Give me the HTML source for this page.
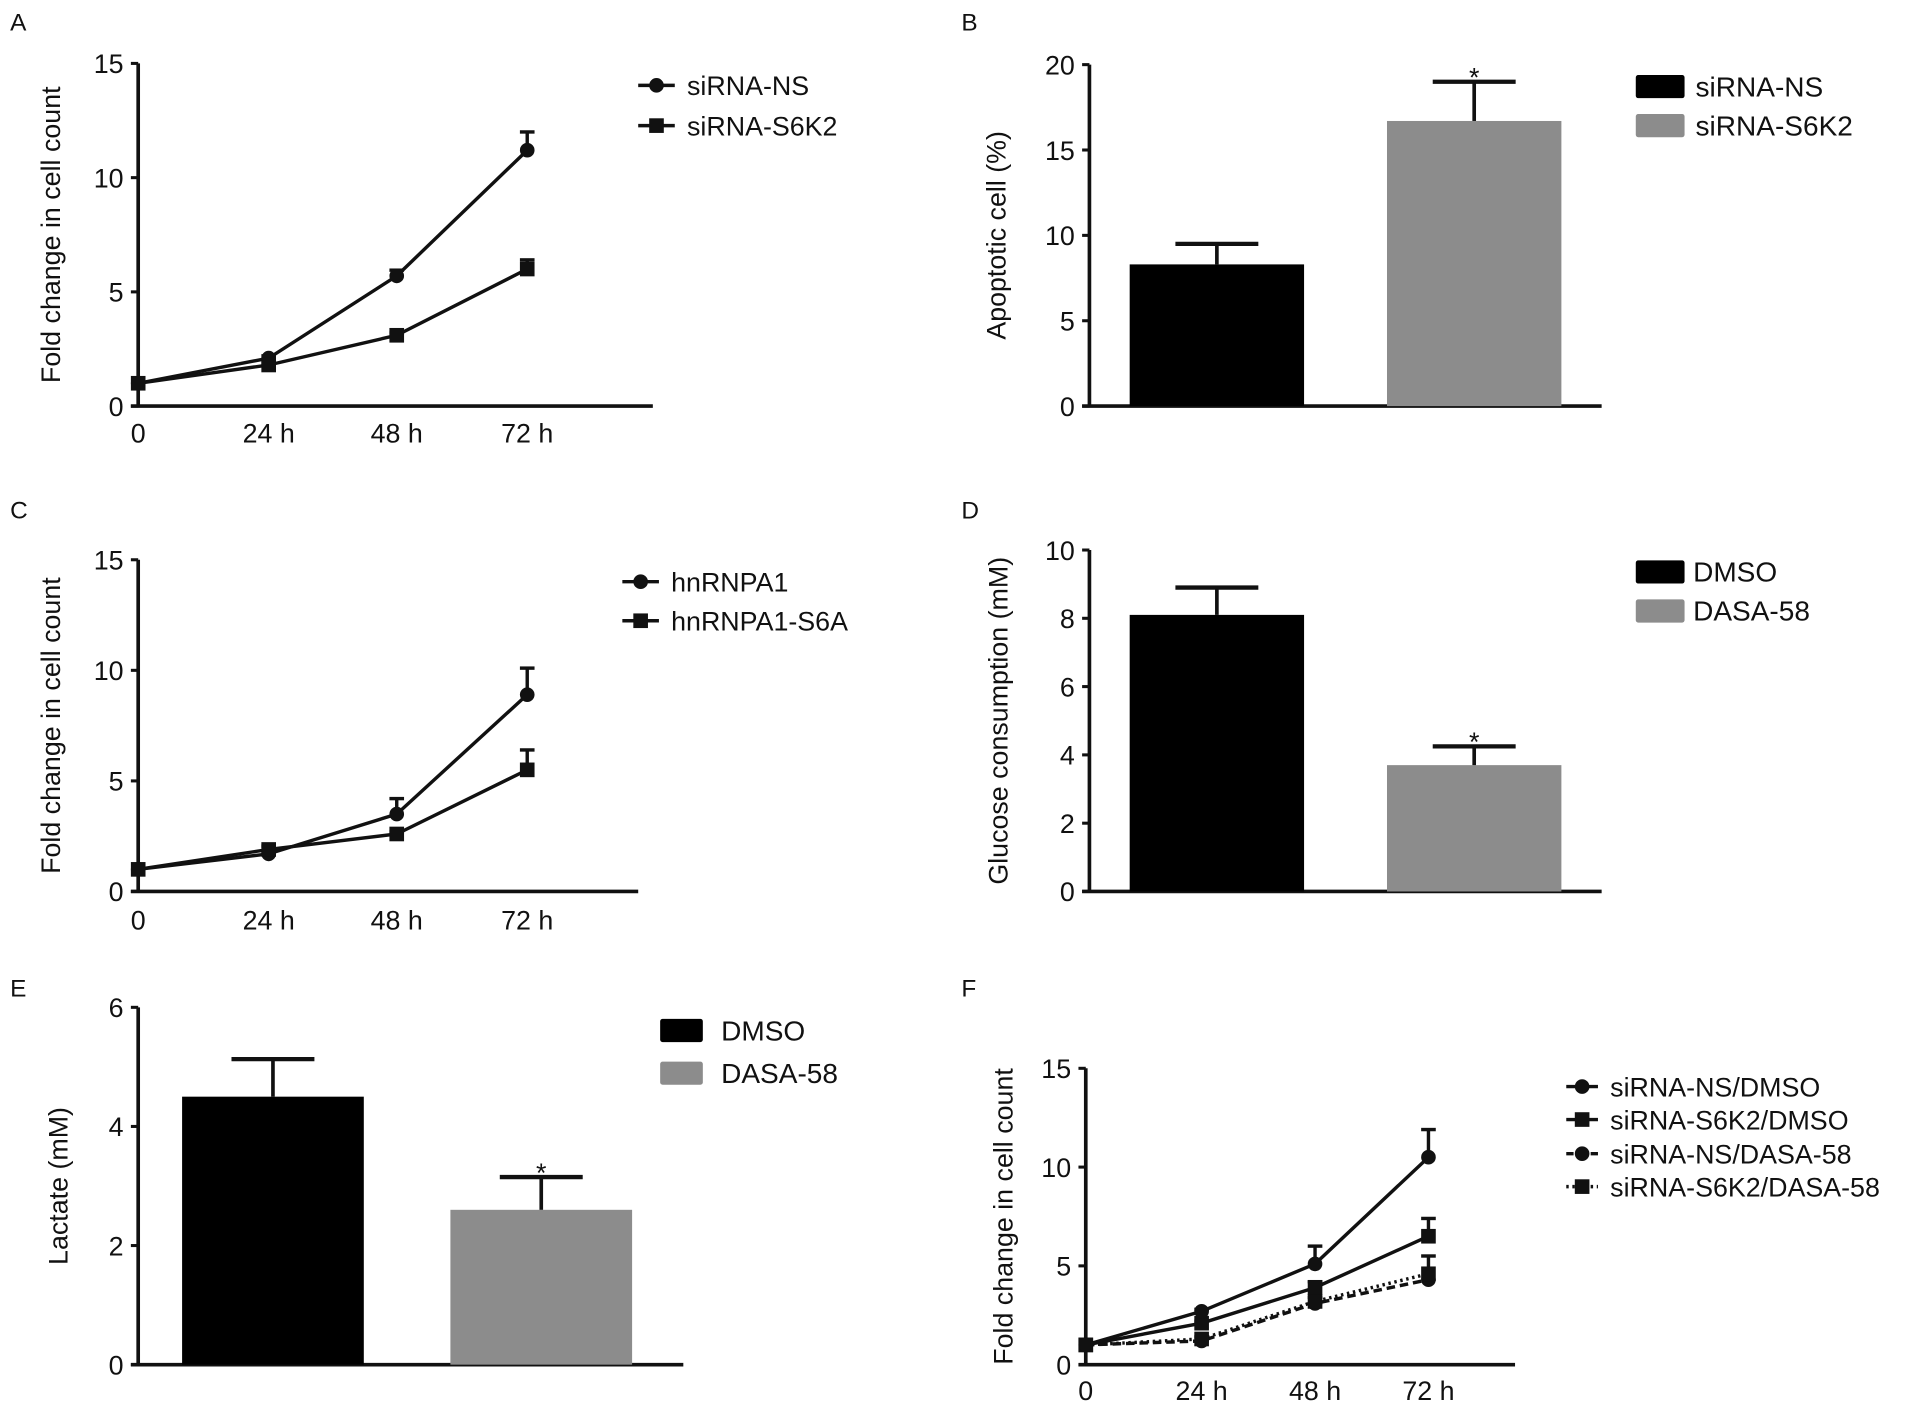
<!DOCTYPE html>
<html><head><meta charset="utf-8">
<style>
html,body{margin:0;padding:0;background:#fff;}
svg{display:block;}
text{font-family:"Liberation Sans Narrow","Liberation Sans",sans-serif;fill:#111;}
</style></head>
<body>
<svg id="fig" width="1913" height="1411" viewBox="0 0 1568 1157" xmlns="http://www.w3.org/2000/svg"></svg>
<script>
// ---- Panel A data ----
const timeLabels = ["0","24 h","48 h","72 h"];
const aNS = [1, 2.1, 5.7, 11.2];
const aNSerr = [0, 0.1, 0.25, 0.8];
const aS6K2 = [1, 1.8, 3.1, 6.0];
const aS6K2err = [0, 0.1, 0.1, 0.4];
// ---- Panel B data ----
const bCats = ["siRNA-NS","siRNA-S6K2"];
const bVals = [8.3, 16.7];
const bErr = [1.2, 2.3];
// ---- Panel C data ----
const cA1 = [1, 1.7, 3.5, 8.9];
const cA1err = [0, 0.1, 0.7, 1.2];
const cS6A = [1, 1.9, 2.6, 5.5];
const cS6Aerr = [0, 0.15, 0.1, 0.9];
// ---- Panel D data ----
const dCats = ["DMSO","DASA-58"];
const dVals = [8.1, 3.7];
const dErr = [0.8, 0.55];
// ---- Panel E data ----
const eVals = [4.5, 2.6];
const eErr = [0.63, 0.55];
// ---- Panel F data ----
const fNSD = [1, 2.7, 5.1, 10.5];
const fNSDerr = [0, 0.1, 0.9, 1.4];
const fS6D = [1, 2.1, 3.9, 6.5];
const fS6Derr = [0, 0.1, 0.3, 0.9];
const fNSA = [1, 1.2, 3.1, 4.3];
const fS6A = [1, 1.3, 3.2, 4.6];
const fS6Aerr = [0, 0.1, 0.2, 0.9];

const NS="http://www.w3.org/2000/svg";
const svg=document.getElementById('fig');
function el(tag,attrs,parent,txt){const e=document.createElementNS(NS,tag);for(const k in attrs)e.setAttribute(k,attrs[k]);if(txt!==undefined)e.textContent=txt;(parent||svg).appendChild(e);return e;}

function axes(g,o){
  const y=v=>o.yBot-(v/o.max)*(o.yBot-o.yTop);
  const ya=el('line',{x1:o.x0,y1:o.yTop,x2:o.x0,y2:o.yBot+1,stroke:'#111','stroke-width':3},g);
  
  const xa=el('line',{x1:o.x0-6,y1:o.yBot,x2:o.xEnd,y2:o.yBot,stroke:'#111','stroke-width':3},g);
  
  o.ticks.forEach(t=>{
    el('line',{x1:o.x0-6,y1:y(t),x2:o.x0,y2:y(t),stroke:'#111','stroke-width':2.5},g);
    const tl=el('text',{x:o.x0-12,y:y(t)+8,'text-anchor':'end','font-size':22},g,String(t));
    
  });
  const tt=el('text',{x:o.titleX,y:(o.yTop+o.yBot)/2,'text-anchor':'middle','font-size':22,transform:`rotate(-90 ${o.titleX} ${(o.yTop+o.yBot)/2})`},g,o.title);
  
  return y;
}
function panelLabel(t,x,y){const l=el('text',{x:x,y:y,'font-size':20},svg,t);}
function marker(g,shape,cx,cy){
  if(shape==='circle')return el('circle',{cx:cx,cy:cy,r:6,fill:'#111'},g);
  return el('rect',{x:cx-6,y:cy-6,width:12,height:12,fill:'#111'},g);
}
function lineSeries(g,xs,y,vals,errs,shape,dash,name){
  const s=el('g',{},g);
  const pts=vals.map((v,i)=>xs[i]+','+y(v)).join(' ');
  el('polyline',{points:pts,fill:'none',stroke:'#111','stroke-width':2.8,'stroke-dasharray':dash||'none'},s);
  vals.forEach((v,i)=>{
    if(errs&&errs[i]>0.05){
      el('line',{x1:xs[i],y1:y(v),x2:xs[i],y2:y(v+errs[i]),stroke:'#111','stroke-width':2.8},s);
      el('line',{x1:xs[i]-6,y1:y(v+errs[i]),x2:xs[i]+6,y2:y(v+errs[i]),stroke:'#111','stroke-width':2.8},s);
    }
    const m=marker(s,shape,xs[i],y(v));
  });
}
function xTicks(g,xs,yb,ly){
  xs.forEach((x,i)=>{const t=el('text',{x:x,y:ly,'text-anchor':'middle','font-size':22},g,timeLabels[i]);});
}
function lineLegend(g,x1,x2,tx,ys,labels,shapes,dashes){
  ys.forEach((yy,i)=>{
    const e=el('g',{},g);
    el('line',{x1:x1,y1:yy,x2:x2,y2:yy,stroke:'#111','stroke-width':2.8,'stroke-dasharray':dashes[i]||'none'},e);
    marker(e,shapes[i],(x1+x2)/2,yy);
    el('text',{x:tx,y:yy+8,'font-size':22},e,labels[i]);
  });
}
function bars(g,y,lefts,w,vals,errs,colors,star,name){
  vals.forEach((v,i)=>{
    const r=el('rect',{x:lefts[i],y:y(v),width:w,height:y(0)-y(v),fill:colors[i]},g);
    
    const cx=lefts[i]+w/2;
    el('line',{x1:cx,y1:y(v),x2:cx,y2:y(v+errs[i]),stroke:'#111','stroke-width':3},g);
    el('line',{x1:cx-34,y1:y(v+errs[i]),x2:cx+34,y2:y(v+errs[i]),stroke:'#111','stroke-width':3.5},g);
    if(star[i]){const s=el('text',{x:cx,y:y(v+errs[i])+4,'text-anchor':'middle','font-size':22},g,'*');}
  });
}
function boxLegend(g,x,w,h,ys,labels,colors,tx){
  ys.forEach((yy,i)=>{
    const e=el('g',{},g);
    el('rect',{x:x,y:yy-h/2,width:w,height:h,fill:colors[i],rx:2},e);
    el('text',{x:tx,y:yy+8,'font-size':23},e,labels[i]);
  });
}

panelLabel('A',8,25);
let g=el('g',{});
let xsA=[113,220,325,432];
let y=axes(g,{x0:113,xEnd:535,yTop:52,yBot:333,max:15,ticks:[0,5,10,15],title:'Fold change in cell count',titleX:49});
lineSeries(g,xsA,y,aNS,aNSerr,'circle',null,'series-sirna-ns');
lineSeries(g,xsA,y,aS6K2,aS6K2err,'square',null,'series-sirna-s6k2');
xTicks(g,xsA,333,363);
lineLegend(g,523,553,563,[70,103],['siRNA-NS','siRNA-S6K2'],['circle','square'],[]);

panelLabel('B',788,25);
g=el('g',{});
y=axes(g,{x0:893,xEnd:1313,yTop:53,yBot:333,max:20,ticks:[0,5,10,15,20],title:'Apoptotic cell (%)',titleX:824});
bars(g,y,[926,1137],143,bVals,bErr,['#000','#8c8c8c'],[false,true],'apoptotic');
boxLegend(g,1341,40,19,[71,103],bCats,['#000','#8c8c8c'],1390);

panelLabel('C',8,425);
g=el('g',{});
y=axes(g,{x0:113,xEnd:523,yTop:459,yBot:731,max:15,ticks:[0,5,10,15],title:'Fold change in cell count',titleX:49});
lineSeries(g,xsA,y,cA1,cA1err,'circle',null,'series-hnrnpa1');
lineSeries(g,xsA,y,cS6A,cS6Aerr,'square',null,'series-hnrnpa1-s6a');
xTicks(g,xsA,731,762);
lineLegend(g,510,540,550,[477,509],['hnRNPA1','hnRNPA1-S6A'],['circle','square'],[]);

panelLabel('D',788,425);
g=el('g',{});
y=axes(g,{x0:893,xEnd:1313,yTop:451,yBot:731,max:10,ticks:[0,2,4,6,8,10],title:'Glucose consumption (mM)',titleX:826});
bars(g,y,[926,1137],143,dVals,dErr,['#000','#8c8c8c'],[false,true],'glucose');
boxLegend(g,1341,40,19,[469,501],dCats,['#000','#8c8c8c'],1388);

panelLabel('E',8,817);
g=el('g',{});
y=axes(g,{x0:113,xEnd:560,yTop:826,yBot:1119,max:6,ticks:[0,2,4,6],title:'Lactate (mM)',titleX:55});
bars(g,y,[149,369],149,eVals,eErr,['#000','#8c8c8c'],[false,true],'lactate');
boxLegend(g,541,35,19,[845,880],dCats,['#000','#8c8c8c'],591);

panelLabel('F',788,817);
g=el('g',{});
let xsF=[890,985,1078,1171];
y=axes(g,{x0:890,xEnd:1242,yTop:876,yBot:1119,max:15,ticks:[0,5,10,15],title:'Fold change in cell count',titleX:830});
lineSeries(g,xsF,y,fNSA,null,'circle','7 4','series-sirna-ns-dasa58');
lineSeries(g,xsF,y,fS6A,fS6Aerr,'square','2 3','series-sirna-s6k2-dasa58');
lineSeries(g,xsF,y,fS6D,fS6Derr,'square',null,'series-sirna-s6k2-dmso');
lineSeries(g,xsF,y,fNSD,fNSDerr,'circle',null,'series-sirna-ns-dmso');
xTicks(g,xsF,1119,1148);
lineLegend(g,1284,1310,1320,[891,918,946,973],['siRNA-NS/DMSO','siRNA-S6K2/DMSO','siRNA-NS/DASA-58','siRNA-S6K2/DASA-58'],['circle','square','circle','square'],[null,null,'6 4','2 3']);
</script>
</body></html>
